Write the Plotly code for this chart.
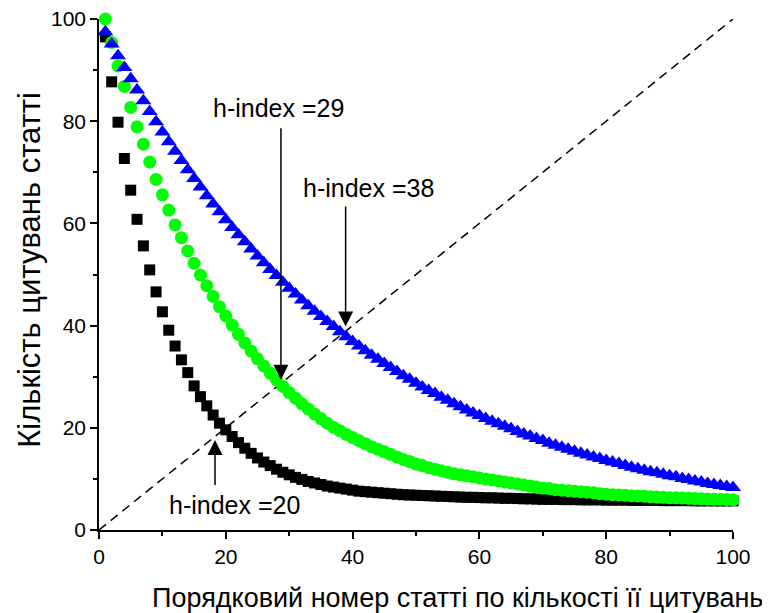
import plotly.graph_objects as go

# ---- data ----
article_rank = list(range(1, 101))

citations_black = [
    96.5, 87.7, 79.8, 72.7, 66.5, 60.8, 55.6, 50.9, 46.6, 42.7,
    39.1, 36.0, 33.3, 30.8, 28.2, 26.1, 24.3, 22.5, 20.9, 19.6,
    18.3, 17.1, 16.0, 15.0, 14.1, 13.3, 12.6, 11.9, 11.3, 10.8,
    10.3, 9.9, 9.5, 9.2, 8.9, 8.6, 8.4, 8.2, 8.0, 7.8,
    7.6, 7.5, 7.4, 7.3, 7.2, 7.1, 7.0, 6.9, 6.85, 6.8,
    6.75, 6.7, 6.65, 6.6, 6.55, 6.5, 6.45, 6.4, 6.4, 6.35,
    6.3, 6.3, 6.25, 6.2, 6.2, 6.15, 6.1, 6.1, 6.05, 6.0,
    6.0, 6.0, 5.95, 5.95, 5.95, 5.9, 5.9, 5.9, 5.9, 5.85,
    5.85, 5.85, 5.85, 5.8, 5.8, 5.8, 5.8, 5.8, 5.75, 5.75,
    5.75, 5.75, 5.75, 5.7, 5.7, 5.7, 5.7, 5.7, 5.7, 5.7,
]

citations_green = [
    100.0, 95.4, 90.8, 86.8, 82.7, 78.9, 75.5, 72.0, 68.6, 65.6,
    62.6, 59.7, 57.2, 54.6, 52.2, 49.9, 47.8, 45.7, 43.7, 41.9,
    40.1, 38.3, 36.6, 35.0, 33.5, 32.1, 30.7, 29.4, 28.1, 26.9,
    25.8, 24.7, 23.7, 22.7, 21.8, 20.9, 20.1, 19.4, 18.7, 18.1,
    17.5, 16.9, 16.3, 15.8, 15.3, 14.8, 14.3, 13.8, 13.4, 12.9,
    12.6, 12.2, 11.9, 11.6, 11.3, 11.0, 10.8, 10.6, 10.4, 10.2,
    10.0, 9.8, 9.6, 9.4, 9.2, 9.0, 8.8, 8.6, 8.4, 8.2,
    8.1, 7.9, 7.8, 7.7, 7.6, 7.5, 7.4, 7.3, 7.1, 7.0,
    6.9, 6.85, 6.8, 6.7, 6.65, 6.6, 6.5, 6.45, 6.4, 6.3,
    6.3, 6.25, 6.2, 6.15, 6.1, 6.05, 6.0, 6.0, 5.95, 5.9,
]

citations_blue = [
    97.5, 95.1, 92.8, 90.5, 88.3, 86.1, 84.0, 81.9, 79.9, 77.9,
    76.0, 74.1, 72.3, 70.5, 68.8, 67.1, 65.4, 63.8, 62.3, 60.7,
    59.2, 57.8, 56.4, 55.0, 53.6, 52.3, 51.0, 49.8, 48.5, 47.3,
    46.2, 45.0, 43.9, 42.8, 41.8, 40.8, 39.8, 38.8, 37.8, 36.9,
    36.0, 35.1, 34.2, 33.4, 32.6, 31.8, 31.0, 30.2, 29.5, 28.7,
    28.0, 27.3, 26.7, 26.0, 25.4, 24.7, 24.1, 23.5, 22.9, 22.4,
    21.8, 21.3, 20.8, 20.3, 19.8, 19.3, 18.8, 18.4, 17.9, 17.5,
    17.0, 16.6, 16.2, 15.8, 15.4, 15.0, 14.7, 14.3, 14.0, 13.6,
    13.3, 13.0, 12.6, 12.3, 12.0, 11.7, 11.4, 11.2, 10.9, 10.6,
    10.4, 10.1, 9.9, 9.6, 9.4, 9.1, 8.9, 8.7, 8.5, 8.3,
]

diag_x = [0, 100]
diag_y = [0, 100]

tick_vals = [0, 20, 40, 60, 80, 100]
tick_text = ["0", "20", "40", "60", "80", "100"]

# h-index annotations: label, arrow tip (x, y), arrow tail (x, y), text position (x, y)
h_labels = ["h-index =29", "h-index =38", "h-index =20"]
h_tip = [(28.7, 29.4), (38.9, 39.8), (18.3, 17.6)]
h_tail = [(28.7, 78.9), (38.9, 63.6), (18.3, 8.5)]
h_text_pos = [(28.3, 82.6), (42.5, 66.9), (21.4, 4.9)]

x_title = "Порядковий номер статті по кількості її цитувань"
y_title = "Кількість цитувань статті"

FONT = "Arial, 'Liberation Sans', sans-serif"

fig = go.Figure()

fig.add_trace(go.Scatter(
    x=diag_x, y=diag_y, mode="lines",
    line=dict(color="black", width=1.5, dash="9px,6px"),
    hoverinfo="skip", showlegend=False, cliponaxis=False,
))
fig.add_trace(go.Scatter(
    x=article_rank, y=citations_black, mode="markers",
    marker=dict(symbol="square", size=11, color="black", line=dict(width=0)),
    showlegend=False, cliponaxis=False,
))
fig.add_trace(go.Scatter(
    x=article_rank, y=citations_green, mode="markers",
    marker=dict(symbol="circle", size=13, color="#00FF00", line=dict(width=0)),
    showlegend=False, cliponaxis=False,
))
fig.add_trace(go.Scatter(
    x=article_rank, y=citations_blue, mode="markers",
    marker=dict(symbol="triangle-up", size=14, color="#0000FF", line=dict(width=0)),
    showlegend=False, cliponaxis=False,
))

annotations = []
for lab, tip, tail, tp in zip(h_labels, h_tip, h_tail, h_text_pos):
    annotations.append(dict(
        x=tip[0], y=tip[1], ax=tail[0], ay=tail[1],
        xref="x", yref="y", axref="x", ayref="y",
        text="", showarrow=True, arrowhead=2, arrowsize=2.0,
        arrowwidth=1.5, arrowcolor="black", standoff=0,
    ))
    annotations.append(dict(
        x=tp[0], y=tp[1], xref="x", yref="y", text=lab, showarrow=False,
        font=dict(family=FONT, size=25, color="black"),
        xanchor="center", yanchor="middle",
    ))

annotations.append(dict(
    x=0.565, y=-0.133, xref="paper", yref="paper", text=x_title,
    showarrow=False, font=dict(family=FONT, size=27, color="black"),
    xanchor="center", yanchor="middle",
))
annotations.append(dict(
    x=-0.109, y=0.509, xref="paper", yref="paper", text=y_title,
    showarrow=False, textangle=-90,
    font=dict(family=FONT, size=31, color="black"),
    xanchor="center", yanchor="middle",
))

axis_common = dict(
    range=[0, 100], showgrid=False, zeroline=False,
    showline=True, linecolor="black", linewidth=1.5,
    ticks="outside", ticklen=7, tickwidth=1.5, tickcolor="black",
    tickvals=tick_vals, ticktext=tick_text,
    tickfont=dict(family=FONT, size=21, color="black"),
    ticklabeloverflow="allow",
    minor=dict(dtick=10, tick0=0, ticks="outside", ticklen=4,
               tickwidth=1.5, tickcolor="black"),
    mirror=False, automargin=False,
)

# page body has an 8px margin, so the figure is sized to fill the rest
fig.update_layout(
    width=762, height=605,
    margin=dict(l=91, r=37, t=11, b=83),
    paper_bgcolor="white", plot_bgcolor="white",
    xaxis=dict(**axis_common),
    yaxis=dict(**axis_common),
    annotations=annotations,
    showlegend=False,
)

fig.write_html("out.html")
